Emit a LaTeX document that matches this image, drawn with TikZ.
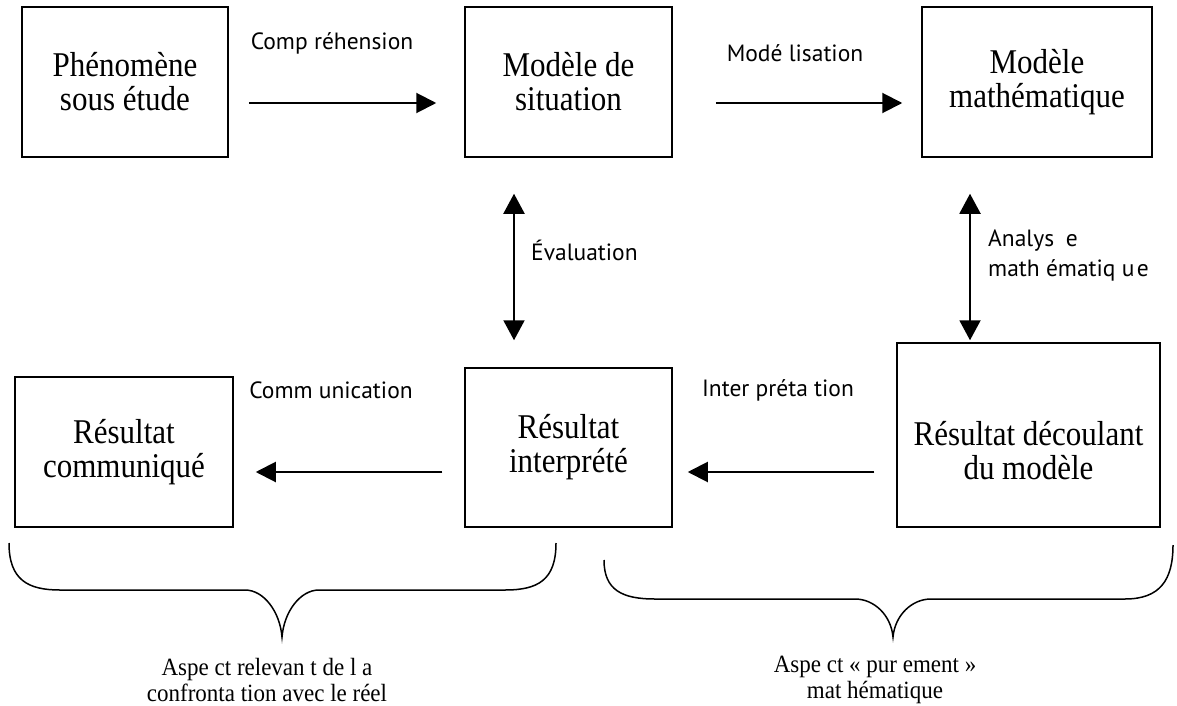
\documentclass[tikz,border=0pt]{standalone}
\usepackage{graphicx}
\usepackage{fontspec}
\setmainfont{Liberation Serif}
\newfontfamily\lblfont{PT Sans}
\usetikzlibrary{arrows.meta}
\newcommand{\boxfont}{\fontsize{31}{34}\selectfont}
\newcommand{\arrfont}{\lblfont\fontsize{23.5}{30}\selectfont}
\newcommand{\notefont}{\fontsize{23}{26.5}\selectfont}
\newcommand{\tall}[1]{\scalebox{1}[1.12]{#1}}
\newcommand{\taller}[1]{\scalebox{1}[1.08]{#1}}
\begin{document}
\begin{tikzpicture}[x=1pt,y=-1pt,
  box/.style n args={2}{draw, line width=1.5pt, minimum width=#1, minimum height=#2, inner sep=0pt, align=center, font=\boxfont},
  flow/.style={line width=2pt, -{Triangle[length=20pt,width=20pt]}},
  both/.style={line width=2pt, {Triangle[length=20pt,width=21pt]}-{Triangle[length=20pt,width=21pt]}},
  arrlbl/.style={inner sep=0pt, font=\arrfont, align=left},
  note/.style={inner sep=0pt, font=\notefont, align=center},
  bracestyle/.style={line width=1.5pt}]
\useasboundingbox (0,0) rectangle (1177,706);

% boxes
\node[box={206pt}{150pt}] (box1) at (125,82) {\tall{Phénomène}\\\tall{sous étude}};
\node[box={207pt}{150pt}] (box2) at (568.5,82) {\tall{Modèle de}\\\tall{situation}};
\node[box={230pt}{150pt}] (box3) at (1037,82) {\tall{Modèle}\\\tall{mathématique}};
\node[box={218pt}{150pt}] (box4) at (124,452) {\tall{Résultat}\\\tall{communiqué}};
\node[box={207pt}{159pt}] (box5) at (568.5,447.5) {\tall{Résultat}\\\tall{interprété}};
\node[box={263pt}{184pt}] (box6) at (1028.5,435) {};
\node[inner sep=0pt, align=center, font=\boxfont] (box6text) at (1028.5,451) {\tall{Résultat découlant}\\\tall{du modèle}};

% horizontal arrows
\draw[flow, shorten <=20pt, shorten >=28pt] ([yshift=-21pt]box1.east) -- ([yshift=-21pt]box2.west);
\draw[flow, shorten <=43pt, shorten >=19pt] ([yshift=-21pt]box2.east) -- ([yshift=-21pt]box3.west);
\draw[flow, shorten <=22pt, shorten >=22pt] ([yshift=-24.5pt]box5.west) -- ([yshift=-24.5pt]box5.west -| box4.east);
\draw[flow, shorten <=22pt, shorten >=15pt] ([yshift=-37pt]box6.west) -- ([yshift=-37pt]box6.west -| box5.east);

% vertical arrows
\draw[both, shorten <=36pt, shorten >=27pt] ([xshift=-54.5pt]box2.south) -- ([xshift=-54.5pt]box2.south |- box5.north);
\draw[both, shorten <=36pt, shorten >=2pt] ([xshift=-67pt]box3.south) -- ([xshift=-67pt]box3.south |- box6.north);

% arrow labels
\node[arrlbl] (l1) at (332,43) {Comp réhension};
\node[arrlbl] (l2) at (795,53) {Modé lisation};
\node[arrlbl, anchor=west] (l3) at (531,250) {Évaluation};
\node[arrlbl, anchor=west] (l4) at (988,255) {Analys\hspace{0.5em}e\\math ématiq u\hspace{0.1em}e};
\node[arrlbl] (l5) at (331,390) {Comm unication};
\node[arrlbl] (l6) at (778,390) {Inter préta tion};

% braces
\draw[bracestyle] (9,543) .. controls (9,580) and (28,590) .. (60,590) -- (245,590)
  .. controls (264,590) and (280,612) .. (282,637)
  .. controls (284,612) and (300,590) .. (319,590) -- (505,590)
  .. controls (538,590) and (556,580) .. (556,543);
\draw[bracestyle] (604,560) .. controls (604,590) and (622,599) .. (655,599) -- (855,599)
  .. controls (874,599) and (891,615) .. (893,637)
  .. controls (895,615) and (912,599) .. (931,599) -- (1125,599)
  .. controls (1160,599) and (1173,580) .. (1173,545);

% brace labels
\node[note] (n1) at (267,680) {\taller{Aspe ct relevan t de l a}\\\taller{confronta tion avec le réel}};
\node[note] (n2) at (875,680) {\taller{Aspe ct « pur ement »}\\\taller{mat hématique}};
\end{tikzpicture}
\end{document}
